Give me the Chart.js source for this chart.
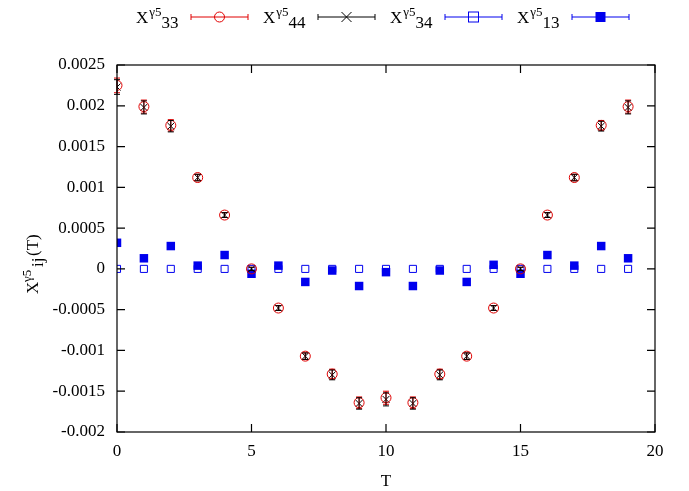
<!DOCTYPE html>
<html><head><meta charset="utf-8">
<script src="https://cdn.jsdelivr.net/npm/chart.js@4"></script>
<style>body{margin:0;background:#fff}canvas{display:block}</style>
</head><body>
<canvas id="c" width="689" height="491"></canvas>
<script>
const T = [0,1,2,3,4,5,6,7,8,9,10,11,12,13,14,15,16,17,18,19];
const x33 = [0.00225,0.00199,0.00176,0.00112,0.00066,0.0,-0.00048,-0.00107,-0.00129,-0.00164,-0.00158,-0.00164,-0.00129,-0.00107,-0.00048,0.0,0.00066,0.00112,0.00176,0.00199];
const x44 = [0.00223,0.00198,0.00175,0.00112,0.00066,0.0,-0.00048,-0.00107,-0.00130,-0.00165,-0.00160,-0.00165,-0.00130,-0.00107,-0.00048,0.0,0.00066,0.00112,0.00175,0.00198];
const err = [0.00009,0.00008,0.00007,0.00004,0.00003,0.00002,0.00003,0.00004,0.00006,0.00007,0.00008,0.00007,0.00006,0.00004,0.00003,0.00002,0.00003,0.00004,0.00006,0.00008];
const x34 = [0,0,0,0,0,0,0,0,0,0,0,0,0,0,0,0,0,0,0,0];
const x13 = [0.00032,0.00013,0.00028,0.00004,0.00017,-0.00006,0.00004,-0.00016,-0.00002,-0.00021,-0.00004,-0.00021,-0.00002,-0.00016,0.00005,-0.00006,0.00017,0.00004,0.00028,0.00013];
const yTicks = [0.0025,0.002,0.0015,0.001,0.0005,0,-0.0005,-0.001,-0.0015,-0.002];
const yTickLabels = ['0.0025','0.002','0.0015','0.001','0.0005','0','-0.0005','-0.001','-0.0015','-0.002'];
const xTicks = [0,5,10,15,20];
const names = ['33','44','34','13'];

const pts = ys => T.map((t,i) => ({x:t, y:ys[i]}));

const errPlugin = {
  id: 'err',
  afterDatasetsDraw(chart) {
    const ctx = chart.ctx, xs = chart.scales.x, ys = chart.scales.y;
    ctx.save();
    [[x33,'#e00000'],[x44,'#000']].forEach(([arr,col]) => {
      ctx.strokeStyle = col; ctx.lineWidth = 1;
      arr.forEach((v,i) => {
        const px = xs.getPixelForValue(T[i]);
        const a = ys.getPixelForValue(v+err[i]), b = ys.getPixelForValue(v-err[i]);
        ctx.beginPath();
        ctx.moveTo(px,a); ctx.lineTo(px,b);
        ctx.moveTo(px-3,a); ctx.lineTo(px+3,a);
        ctx.moveTo(px-3,b); ctx.lineTo(px+3,b);
        ctx.stroke();
      });
    });
    ctx.restore();
  }
};

function label(ctx, x, y, sub) {
  ctx.fillStyle = '#000';
  ctx.textAlign = 'left'; ctx.textBaseline = 'alphabetic';
  ctx.font = '17px "Liberation Serif"';
  ctx.fillText('X', x, y);
  let w = ctx.measureText('X').width;
  ctx.font = '13px "Liberation Serif"';
  ctx.fillText('\u03b35', x+w+1, y-7);
  const w2 = ctx.measureText('\u03b35').width;
  ctx.font = '17px "Liberation Serif"';
  ctx.fillText(sub, x+w+w2+1, y+5);
}

const framePlugin = {
  id: 'frame',
  afterDraw(chart) {
    const ctx = chart.ctx, xs = chart.scales.x, ys = chart.scales.y, a = chart.chartArea;
    ctx.save();
    ctx.strokeStyle = '#000'; ctx.lineWidth = 1.2;
    ctx.strokeRect(a.left, a.top, a.right-a.left, a.bottom-a.top);
    ctx.font = '17px "Liberation Serif"'; ctx.fillStyle = '#000';
    ctx.beginPath();
    yTicks.forEach((v,i) => {
      const py = ys.getPixelForValue(v);
      ctx.moveTo(a.left,py); ctx.lineTo(a.left+8,py);
      ctx.moveTo(a.right,py); ctx.lineTo(a.right-8,py);
      ctx.textAlign = 'right'; ctx.textBaseline = 'middle';
      ctx.fillText(yTickLabels[i], a.left-12, py);
    });
    xTicks.forEach(v => {
      const px = xs.getPixelForValue(v);
      ctx.moveTo(px,a.bottom); ctx.lineTo(px,a.bottom-8);
      ctx.moveTo(px,a.top); ctx.lineTo(px,a.top+8);
      ctx.textAlign = 'center'; ctx.textBaseline = 'top';
      ctx.fillText(String(v), px, a.bottom+11);
    });
    ctx.stroke();
    ctx.textAlign = 'center'; ctx.textBaseline = 'alphabetic';
    ctx.fillText('T', (a.left+a.right)/2, 486);
    // y axis label
    ctx.save();
    ctx.translate(38, 248); ctx.rotate(-Math.PI/2);
    ctx.textAlign = 'left';
    ctx.font = '17px "Liberation Serif"'; ctx.fillText('X', -46, 0);
    ctx.font = '13px "Liberation Serif"'; ctx.fillText('\u03b35', -34, -7);
    ctx.font = '17px "Liberation Serif"'; ctx.fillText('ij', -19, 5);
    ctx.fillText('(T)', -8, 0);
    ctx.restore();
    // legend
    const styles = chart.data.datasets;
    names.forEach((n,i) => {
      const tx = 136 + 127*i, s0 = 191 + 127*i, s1 = 248 + 127*i, ly = 17;
      label(ctx, tx, 23, n);
      const ds = styles[i];
      ctx.strokeStyle = ds.borderColor; ctx.fillStyle = ds.backgroundColor; ctx.lineWidth = 1;
      ctx.beginPath();
      ctx.moveTo(s0,ly); ctx.lineTo(s1,ly);
      ctx.moveTo(s0,ly-3); ctx.lineTo(s0,ly+3);
      ctx.moveTo(s1,ly-3); ctx.lineTo(s1,ly+3);
      ctx.stroke();
      const cx = (s0+s1)/2;
      ctx.beginPath();
      if (i===0) { ctx.arc(cx,ly,5,0,2*Math.PI); ctx.stroke(); }
      else if (i===1) { ctx.moveTo(cx-5,ly-5); ctx.lineTo(cx+5,ly+5); ctx.moveTo(cx+5,ly-5); ctx.lineTo(cx-5,ly+5); ctx.stroke(); }
      else if (i===2) { ctx.strokeRect(cx-5,ly-5,10,10); }
      else { ctx.fillRect(cx-5,ly-5,10,10); }
    });
    ctx.restore();
  }
};

new Chart(document.getElementById('c'), {
  type: 'scatter',
  data: { datasets: [
    {data: pts(x33), pointStyle:'circle', pointRadius:5, borderColor:'#e00000', backgroundColor:'rgba(0,0,0,0)', borderWidth:1},
    {data: pts(x44), pointStyle:'crossRot', pointRadius:5, borderColor:'#000', backgroundColor:'#000', borderWidth:1},
    {data: pts(x34), pointStyle:'rect', pointRadius:5, borderColor:'#0000ee', backgroundColor:'rgba(0,0,0,0)', borderWidth:1},
    {data: pts(x13), pointStyle:'rect', pointRadius:6, borderColor:'#0000ee', backgroundColor:'#0000ee', borderWidth:0}
  ]},
  options: {
    responsive:false, animation:false, events:[],
    layout:{padding:{left:117,right:34,top:65,bottom:59}},
    plugins:{legend:{display:false}, tooltip:{enabled:false}},
    scales:{
      x:{type:'linear', min:0, max:20, display:false},
      y:{type:'linear', min:-0.002, max:0.0025, display:false}
    }
  },
  plugins:[errPlugin, framePlugin]
});
</script>
</body></html>
